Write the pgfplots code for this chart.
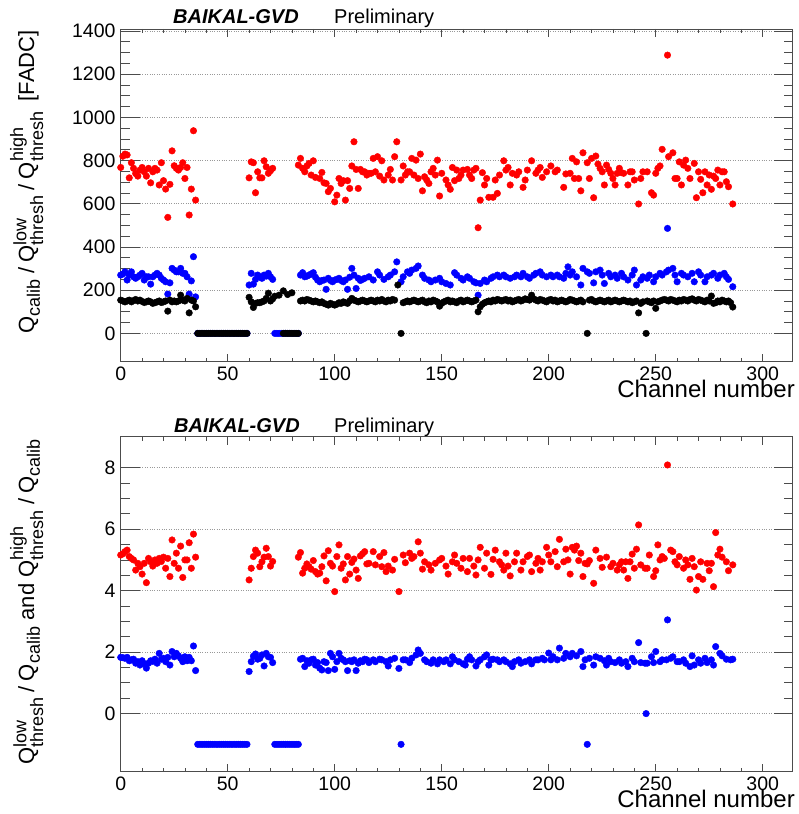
\documentclass[border=0pt]{standalone}
\usepackage{fontspec}
\setmainfont{Liberation Sans}
\usepackage{amsmath}
\usepackage{pgfplots}
\pgfplotsset{compat=1.18}

% stacked super/subscripts as ROOT draws them
\newcommand\qscr[1]{\text{\fontsize{18}{19}\selectfont #1}}
\newcommand\qslash{\hspace{5pt}/\hspace{5pt}}

\pgfplotsset{
  gvd/.style={
    scale only axis, width=672pt,
    xmin=0, xmax=314,
    xtick={0,50,...,300}, minor x tick num=4,
    xtick pos=both, ytick pos=both, tick align=inside,
    xtick style={/pgfplots/major tick length=8pt, /pgfplots/minor tick length=4pt},
    ytick style={/pgfplots/major tick length=19pt, /pgfplots/minor tick length=9pt},
    axis line style={black!70, line width=0.8pt},
    every tick/.append style={black!70, line width=0.8pt},
    ymajorgrids, grid style={black!40, dotted, line width=0.7pt},
    tick label style={font=\fontsize{19.5}{22}\selectfont},
    /pgf/number format/assume math mode=true,
    /pgf/number format/1000 sep={},
    xticklabel style={inner sep=0pt, yshift=-5pt},
    yticklabel style={inner sep=0pt, xshift=-5pt},
  },
  dots/.style={only marks, mark=*, mark size=3.3pt, draw=#1, fill=#1, mark options={draw=#1, fill=#1}},
}

\begin{document}
\begin{tikzpicture}[x=1pt, y=1pt]
\path[use as bounding box] (0,0) rectangle (798,814);

% ---------- upper panel: amplitudes ----------
\begin{axis}[gvd, at={(120.7pt,452.3pt)}, anchor=south west, height=332.7pt,
  ymin=-131, ymax=1409, ytick={0,200,...,1400}, minor y tick num=3]
% Q_calib
\addplot[dots=red] coordinates {
(0,768)(1,820)(2,830)(3,826)(4,720)(5,790)(6,764)(7,740)(8,728)(9,756)(10,768)(11,748)(12,728)(13,764)(14,697)(15,748)(16,764)(17,756)(18,687)(19,790)(20,707)(21,668)(22,537)(23,690)(24,845)(25,776)(26,764)(27,756)(28,768)(29,790)(30,717)(31,768)(32,548)(33,668)(34,938)(35,617)
(60,720)(61,794)(62,790)(63,651)(64,748)(65,720)(66,720)(67,799)(68,771)(69,741)(70,753)(71,764)
(83,779)(84,810)(85,764)(86,748)(87,775)(88,787)(89,733)(90,799)(91,722)(93,717)(94,745)(95,697)(96,694)(97,656)(98,671)(100,609)(101,640)(102,717)(103,694)(104,707)(105,617)(106,707)(107,671)(108,775)(109,887)(110,759)(111,671)(112,759)(113,748)(114,748)(115,733)(116,741)(117,741)(118,810)(119,748)(120,818)(121,728)(122,799)(123,710)(125,733)(126,759)(127,710)(128,818)(129,887)
(131,710)(132,775)(133,733)(134,748)(135,748)(136,810)(137,733)(138,802)(139,717)(140,830)(141,660)(142,725)(143,710)(144,694)(145,748)(146,764)(147,733)(148,802)(149,636)(150,741)(152,710)(153,687)(154,667)(155,768)(156,707)(157,756)(158,717)(159,733)(160,756)(162,759)(163,733)(164,717)(165,756)(166,764)(167,489)(168,617)(169,744)(170,687)(171,717)(172,630)(174,630)(175,710)(176,648)(177,733)(179,799)(180,756)(181,768)(182,687)(183,741)(185,733)(186,748)(188,676)(189,710)(190,756)(192,799)(194,741)(195,756)(196,768)(197,722)(199,748)(201,775)(203,748)(204,756)(207,676)(208,738)
(210,741)(211,810)(212,717)(213,794)(214,717)(215,660)(216,836)(218,790)(219,717)(220,810)(221,628)(222,821)(223,784)(224,764)(225,748)(226,687)(227,779)(228,759)(229,741)(230,717)(231,687)(232,741)(233,764)(234,744)(235,741)(237,687)(238,748)(239,748)(240,710)(242,599)(243,717)(244,748)(246,748)(248,651)(249,640)(250,741)(251,764)(252,775)(253,852)(255.5,1288)(256,818)(258,836)(259,717)(260,717)(261,794)(262,687)(263,779)(264,802)(265,764)(266,717)(268,787)(269,628)(270,748)(271,713)(272,651)(273,748)(274,687)(275,733)(276,667)(277,728)(278,717)(279,756)(280,687)(281,748)(282,748)(283,702)(284,679)(286,599)
};
% Q_thresh^low
\addplot[dots=blue] coordinates {
(0,270)(1,275)(2,285)(3,247)(4,270)(5,285)(6,262)(7,255)(8,262)(9,270)(10,278)(11,247)(12,262)(13,262)(14,228)(15,262)(16,270)(17,278)(18,270)(19,255)(20,247)(21,239)(22,182)(23,234)(24,301)(25,293)(26,285)(27,285)(28,301)(29,278)(30,278)(31,262)(32,182)(33,243)(34,355)(35,169)
(36,0)(37,0)(38,0)(39,0)(40,0)(41,0)(42,0)(43,0)(44,0)(45,0)(46,0)(47,0)(48,0)(49,0)(50,0)(51,0)(52,0)(53,0)(54,0)(55,0)(56,0)(57,0)(58,0)(59,0)
(60,224)(61,278)(62,228)(63,250)(64,270)(65,262)(66,255)(67,270)(68,265)(69,278)(70,262)(71,250)
(72,0)(73,0)(74,0)(75,0)(76,0)(77,0)(78,0)(79,0)(80,0)(81,0)(82,0)(83,0)
(84,270)(85,281)(86,262)(87,265)(88,270)(89,275)(90,281)(91,260)(92,247)(93,239)(94,245)(95,247)(96,204)(97,255)(98,245)(99,239)(100,247)(101,250)(102,255)(103,245)(104,239)(105,247)(106,204)(107,260)(108,301)(109,270)(110,208)(111,255)
(112,245)(113,250)(114,255)(116,262)(118,247)(120,285)(121,270)(123,250)(125,262)(126,270)(128,285)(129,331)(131,239)(132,262)(134,285)(135,278)(136,293)(138,301)(139,312)(141,270)(142,255)(144,247)(145,239)(147,247)(149,255)(150,239)(152,231)(154,224)(156,281)(157,270)(159,255)(160,247)(162,262)(163,255)(165,239)(166,234)(167,177)(168,231)(170,247)(171,239)(173,255)(174,262)(176,270)(177,262)(179,270)(180,262)(182,255)(184,262)(185,270)(187,262)(188,278)(190,262)(191,255)(193,270)(194,278)(196,285)(197,270)(199,262)(201,270)(202,262)(204,270)(205,262)(207,255)(208,278)
(209,308)(210,270)(211,285)(213,262)(215,224)(216,301)(218,285)(219,278)(221,234)(222,285)(224,293)(225,270)(226,231)(228,278)(229,262)(231,270)(232,255)(234,278)(235,262)(237,247)(239,270)(240,293)(241,224)(243,247)(244,262)(246,255)(247,270)(249,239)(250,262)(252,278)(253,270)(255,285)(255.5,486)(256,293)(258,301)(259,270)(260,239)(262,278)(263,270)(265,262)(267,278)(268,239)(270,285)(271,270)(273,239)(274,262)(276,270)(277,278)(279,255)(280,270)(282,278)(283,262)(284,250)(286,216)
};
% Q_thresh^high
\addplot[dots=black] coordinates {
(0,154)(1,150)(2,146)(3,150)(4,154)(5,146)(6,152)(7,157)(8,150)(9,154)(10,148)(11,143)(12,146)(13,150)(14,146)(15,139)(16,142)(17,146)(18,150)(19,143)(20,146)(21,150)(22,103)(23,154)(24,146)(25,150)(26,146)(27,150)(28,177)(29,154)(30,150)(31,162)(32,95)(33,154)(34,150)(35,123)
(36,0)(37,0)(38,0)(39,0)(40,0)(41,0)(42,0)(43,0)(44,0)(45,0)(46,0)(47,0)(48,0)(49,0)(50,0)(51,0)(52,0)(53,0)(54,0)(55,0)(56,0)(57,0)(58,0)(59,0)
(60,167)(61,146)(62,120)(63,139)(64,142)(65,142)(66,146)(67,150)(68,162)(69,186)(70,150)(71,160)(72,172)(74,177)(76,197)(78,180)(80,188)
(76,0)(77,0)(78,0)(79,0)(80,0)(81,0)(82,0)(83,0)
(84,150)(85,154)(86,150)(87,157)(88,154)(89,150)(90,146)(91,150)(92,146)(93,142)(94,146)(95,139)(96,135)(97,131)(98,139)(99,135)(100,131)(101,135)(102,142)(103,139)(104,146)(105,142)(106,139)(107,150)(108,162)(109,154)(110,150)(111,146)(112,150)(113,154)(114,150)(115,146)(116,150)(117,154)(118,150)(119,146)(120,154)(121,150)(122,157)(123,150)(124,146)(125,154)(126,150)(127,157)(128,154)(129.5,224)(131,0)
(132,142)(133,146)(134,150)(135,146)(136,150)(137,154)(138,150)(139,146)(140,150)(141,154)(142,146)(143,142)(144,150)(145,146)(146,154)(147,150)(148,146)(149,126)(150,139)(151,146)(152,150)(153,154)(154,146)(155,150)(156,146)(157,142)(158,150)(159,154)(160,146)(161,150)(162,154)(163,150)(164,146)(165,150)(166,154)(167,100)(168,123)(169,135)(170,142)(171,146)(172,150)(173,146)(174,154)(175,150)(176,157)(177,154)(178,150)(179,154)(180,157)(181,150)(182,154)(183,146)(184,150)(185,154)(186,157)(187,150)(188,154)(189,160)(190,157)(191,154)(192,177)(193,160)(194,154)(195,150)(196,157)(197,154)(198,150)(199,146)(200,154)(201,157)(202,150)(203,154)(204,146)(205,150)(206,154)(207,150)(208,146)(209,150)(210,157)
(211,154)(212,150)(213,146)(214,150)(215,154)(216,146)(218,0)(219,154)(220,157)(221,150)(222,146)(223,150)(224,154)(225,150)(226,146)(227,150)(228,154)(229,146)(230,150)(231,154)(232,150)(233,146)(234,150)(235,154)(236,150)(237,146)(238,150)(239,142)(240,146)(241,150)(242,95)(243,139)(244,146)(245.5,0)(246,150)(247,146)(248,142)(249,150)(250,116)(251,146)(252,150)(253,154)(254,157)(255,154)(256,150)(257,157)(258,154)(259,150)(260,146)(261,154)(262,150)(263,157)(264,154)(265,150)(266,157)(267,160)(268,154)(269,150)(270,157)(271,154)(272,150)(273,146)(274,154)(275,150)(276,173)(277,139)(278,142)(279,150)(280,146)(281,154)(282,150)(283,146)(284,150)(285,142)(286,122)
};
\end{axis}

% ---------- lower panel: ratios ----------
\begin{axis}[gvd, at={(120.7pt,42.3pt)}, anchor=south west, height=335pt,
  ymin=-1.89, ymax=9.01, ytick={0,2,...,8}, minor y tick num=3]
\addplot[dots=red] coordinates {
(0,5.16)(1,5.20)(2,5.27)(3,5.32)(4,5.11)(5,5.05)(6,5.0)(7,4.67)(8,4.89)(9,4.78)(10,4.54)(11,4.89)(12,4.26)(13,5.05)(14,4.94)(15,4.80)(16,5.0)(17,4.89)(18,5.05)(19,4.95)(20,5.09)(21,4.73)(22,5.05)(23,4.46)(24,5.65)(25,4.89)(26,5.22)(27,4.73)(28,5.45)(29,4.43)(30,5.0)(31,5.0)(32,5.56)(33,4.73)(34,5.84)(35,5.09)
(60,4.35)(61,4.73)(62,5.11)(63,5.32)(64,5.22)(65,4.78)(66,4.94)(67,5.09)(68,5.38)(69,5.11)(70,4.80)(71,4.95)
(83,5.09)(84,5.24)(85,4.57)(86,4.73)(87,4.87)(88,4.78)(89,4.70)(90,4.98)(91,4.62)(92,4.54)(93,4.57)(94,4.78)(95,5.13)(96,4.32)(97,5.30)(98,4.89)(99,4.80)(100,3.97)(101,5.11)(102,5.49)(103,4.73)(104,4.87)(105,4.35)(106,5.11)(107,4.54)(108,4.92)(109,5.03)(110,4.67)(111,4.40)(112,5.13)(113,5.20)(114,5.27)(115,4.87)
(116,4.89)(118,5.27)(119,4.84)(121,5.11)(122,4.78)(123,5.24)(124,4.62)(125,4.80)(127,4.67)(128,5.02)(130,3.97)(132,5.16)(133,4.91)(135,5.22)(136,5.05)(137,5.11)(139,5.59)(140,5.22)(141,4.70)(142,4.94)(144,4.84)(145,4.67)(147,4.89)(149,5.0)(150,5.05)(152,4.80)(153,4.54)(155,4.94)(156,5.16)(157,4.89)(159,4.73)(160,5.05)(162,4.62)(163,5.05)(165,4.80)(166,4.51)(167,5.0)(168,5.41)(170,4.73)(171,5.22)(173,4.53)(174,5.02)(175,5.32)(177,4.94)(178,4.84)(179,4.67)(180,5.22)(181,4.80)(182,4.48)(184,4.94)(185,5.22)(187,4.67)(188,4.94)(190,5.11)(191,5.16)(192,4.62)(194,4.89)(195,5.05)(196,4.67)(197,4.94)(199,5.41)(200,5.16)(201,4.94)(203,5.27)(204,4.78)(205,5.67)(207,4.94)(208,5.35)(209,5.0)(210,4.54)(211,5.41)(212,5.32)
(213,5.45)(214,4.98)(215,5.22)(216,4.46)(217,4.89)(218,4.87)(219,4.98)(221,4.24)(222,5.32)(224,5.05)(225,4.76)(227,5.09)(229,4.78)(230,4.89)(232,4.67)(233,4.84)(234,4.94)(235,4.67)(236,4.94)(237,4.40)(238,4.94)(239,5.19)(240,4.73)(241,5.35)(242,6.14)(243,4.84)(245,4.73)(246,4.73)(247,5.16)(249,4.46)(250,4.65)(251,5.49)(252,5.0)(253,5.11)(254,5.05)(255.5,8.09)(257,5.32)(258,5.27)(259,4.94)(260,4.84)(261,5.11)(263,4.73)(264,5.0)(265,4.84)(266,4.37)(267,5.05)(268,4.78)(269,4.02)(270,4.46)(271,4.94)(272,4.37)(274,4.89)(275,4.65)(276,4.89)(277,4.13)(278,5.89)(279,5.16)(280,5.35)(281,5.09)(283,4.94)(284,4.65)(286,4.84)
};
\addplot[dots=blue] coordinates {
(0,1.83)(1,1.82)(2,1.80)(3,1.83)(4,1.72)(5,1.75)(6,1.77)(7,1.64)(8,1.69)(9,1.58)(10,1.72)(11,1.62)(12,1.48)(13,1.64)(14,1.72)(15,1.70)(16,1.77)(17,1.64)(18,1.96)(19,1.77)(20,1.80)(21,1.69)(22,1.83)(23,1.58)(24,2.02)(25,1.85)(26,1.96)(27,1.88)(28,1.80)(29,1.69)(30,1.85)(31,1.72)(32,1.83)(33,1.72)(34,2.20)(35,1.40)
(36,-1)(37,-1)(38,-1)(39,-1)(40,-1)(41,-1)(42,-1)(43,-1)(44,-1)(45,-1)(46,-1)(47,-1)(48,-1)(49,-1)(50,-1)(51,-1)(52,-1)(53,-1)(54,-1)(55,-1)(56,-1)(57,-1)(58,-1)(59,-1)
(60,1.37)(61,1.69)(62,1.87)(63,1.94)(64,1.77)(65,1.80)(66,1.91)(67,1.55)(68,1.96)(69,1.85)(70,1.83)(71,1.66)
(72,-1)(73,-1)(74,-1)(75,-1)(76,-1)(77,-1)(78,-1)(79,-1)(80,-1)(81,-1)(82,-1)(83,-1)
(84,1.77)(85,1.80)(86,1.53)(87,1.72)(88,1.64)(89,1.75)(90,1.77)(91,1.58)(92,1.66)(93,1.48)(94,1.42)(95,1.69)(96,1.66)(97,1.40)(98,1.96)(99,1.85)(100,1.44)(101,1.69)(102,1.96)(103,1.80)(104,1.75)(105,1.69)(106,1.40)(107,1.72)(108,1.69)(109,1.75)(110,1.40)(111,1.64)(112,1.72)(113,1.69)(114,1.77)
(115,1.75)(116,1.66)(118,1.75)(119,1.69)(121,1.77)(122,1.75)(124,1.69)(125,1.55)(126,1.75)(128,1.80)(130,1.47)(131,-1)(132,1.75)(133,1.75)(135,1.66)(136,1.80)(138,1.91)(139,2.07)(140,1.96)(142,1.75)(143,1.69)(145,1.64)(146,1.75)(148,1.62)(149,1.75)(151,1.69)(152,1.75)(154,1.62)(155,1.85)(156,1.75)(158,1.69)(160,1.62)(161,1.58)(162,1.77)(163,1.85)(164,1.75)(166,1.55)(167,1.69)(168,1.75)(170,1.85)(171,1.91)(172,1.58)(173,1.75)(174,1.77)(176,1.75)(177,1.69)(179,1.75)(180,1.69)(182,1.62)(183,1.53)(184,1.69)(186,1.75)(187,1.64)(189,1.69)(191,1.75)(192,1.62)(194,1.75)(195,1.75)(197,1.80)(198,1.75)(200,1.97)(201,1.75)(202,1.85)(204,1.75)(205,2.13)(207,1.80)(208,1.96)(210,1.85)(211,1.96)
(213,1.88)(215,2.02)(216,1.53)(217,1.75)(218,-1)(219,1.80)(221,1.58)(222,1.85)(224,1.80)(226,1.72)(227,1.58)(228,1.80)(229,1.69)(231,1.66)(233,1.75)(234,1.64)(236,1.69)(237,1.53)(239,1.80)(240,1.69)(242,2.31)(243,1.66)(245,1.64)(245.5,0)(246,1.64)(248,1.85)(249,1.66)(250,2.02)(252,1.69)(253,1.75)(255,1.75)(255.5,3.05)(257,1.80)(258,1.85)(260,1.69)(261,1.69)(263,1.75)(264,1.64)(266,1.53)(267,1.88)(268,1.58)(270,1.75)(271,1.64)(273,1.80)(274,1.66)(276,1.75)(277,1.58)(278,2.18)(280,1.96)(281,1.88)(283,1.77)(285,1.75)(286,1.77)
};
\end{axis}

% ---------- texts ----------
\node[anchor=base west, inner sep=0pt, font=\fontsize{20}{22}\selectfont\bfseries\itshape] at (173,790.7) {BAIKAL-GVD};
\node[anchor=base west, inner sep=0pt, font=\fontsize{20}{22}\selectfont] at (334,790.7) {Preliminary};
\node[anchor=base west, inner sep=0pt, font=\fontsize{20}{22}\selectfont\bfseries\itshape] at (174,381) {BAIKAL-GVD};
\node[anchor=base west, inner sep=0pt, font=\fontsize{20}{22}\selectfont] at (334,381) {Preliminary};

\node[anchor=base east, inner sep=0pt, font=\fontsize{24}{26}\selectfont] at (795,416) {Channel number};
\node[anchor=base east, inner sep=0pt, font=\fontsize{24}{26}\selectfont] at (795,6) {Channel number};

\node[rotate=90, anchor=base, inner sep=0pt, font=\fontsize{22}{24}\selectfont] at (34,632)
  {Q$_{\qscr{calib}}$\qslash Q$^{\qscr{low}}_{\qscr{thresh}}$\qslash Q$^{\qscr{high}}_{\qscr{thresh}}$\hspace{4pt} [FADC]};
\node[rotate=90, anchor=base, inner sep=0pt, font=\fontsize{22}{24}\selectfont] at (34,212)
  {Q$^{\qscr{low}}_{\qscr{thresh}}$\qslash Q$_{\qscr{calib}}$ and Q$^{\qscr{high}}_{\qscr{thresh}}$\qslash Q$_{\qscr{calib}}$};
\end{tikzpicture}
\end{document}
